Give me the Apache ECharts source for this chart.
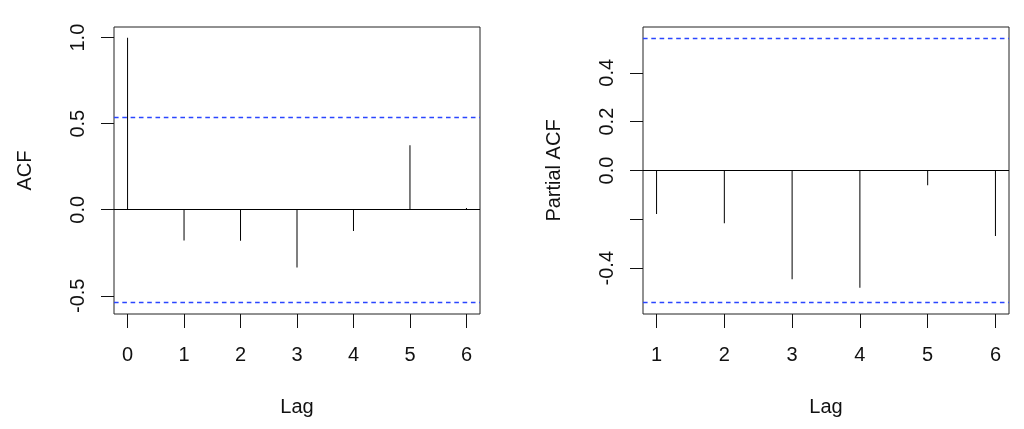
<!DOCTYPE html>
<html>
<head>
<meta charset="utf-8">
<script src="https://cdn.jsdelivr.net/npm/echarts@6/dist/echarts.min.js"></script>
<style>html,body{margin:0;padding:0;background:#fff}#c{width:1024px;height:429px}</style>
</head>
<body>
<div id="c"></div>
<script>
// ---- data ----
const acfLags = [0, 1, 2, 3, 4, 5, 6];
const acfValues = [1.0, -0.178, -0.180, -0.335, -0.124, 0.374, 0.010];
const pacfLags = [1, 2, 3, 4, 5, 6];
const pacfValues = [-0.178, -0.216, -0.445, -0.480, -0.060, -0.268];
const ciBound = 0.544;
const acfYTicks = [-0.5, 0.0, 0.5, 1.0];
const pacfYTicks = [-0.4, -0.2, 0.0, 0.2, 0.4];
const pacfYLabels = [-0.4, 0.0, 0.2, 0.4];
const acfXTicks = [0, 1, 2, 3, 4, 5, 6];
const pacfXTicks = [1, 2, 3, 4, 5, 6];

const FONT = '"Liberation Sans", Arial, Helvetica, sans-serif';
const INK = '#111';
const BLUE = '#2a46ff';
const FS = 20;

function ext(lo, hi) { const d = (hi - lo) * 0.04; return [lo - d, hi + d]; }
const acfY = ext(Math.min(-ciBound, ...acfValues), Math.max(ciBound, ...acfValues));
const acfX = ext(Math.min(...acfLags), Math.max(...acfLags));
const pacfY = ext(Math.min(-ciBound, ...pacfValues), Math.max(ciBound, ...pacfValues));
const pacfX = ext(Math.min(...pacfLags), Math.max(...pacfLags));

function xAxis(idx, range, ticks) {
  return {
    type: 'value', gridIndex: idx, min: range[0], max: range[1],
    axisLine: { show: false, onZero: false },
    splitLine: { show: false },
    axisTick: { show: true, customValues: ticks, length: 14, lineStyle: { color: INK, width: 1 } },
    axisLabel: { customValues: ticks, margin: 31, fontSize: FS, color: INK, fontFamily: FONT, formatter: v => String(v) },
    name: 'Lag', nameLocation: 'middle', nameGap: 83,
    nameTextStyle: { fontSize: FS, color: INK, fontFamily: FONT }
  };
}
function yAxis(idx, range, ticks, labels, name) {
  return {
    type: 'value', gridIndex: idx, min: range[0], max: range[1],
    axisLine: { show: false, onZero: false },
    splitLine: { show: false },
    axisTick: { show: true, customValues: ticks, length: 13, lineStyle: { color: INK, width: 1 } },
    axisLabel: { customValues: labels, rotate: 90, margin: 26, fontSize: FS, color: INK, fontFamily: FONT, formatter: v => v.toFixed(1) },
    name: name, nameLocation: 'middle', nameRotate: 90, nameGap: 79,
    nameTextStyle: { fontSize: FS, color: INK, fontFamily: FONT }
  };
}
function spikes(idx, lags, vals) {
  return {
    type: 'bar', xAxisIndex: idx, yAxisIndex: idx, barWidth: 1,
    data: lags.map((l, i) => [l, vals[i]]),
    itemStyle: { color: '#000' }, silent: true, animation: false,
    markLine: {
      silent: true, symbol: 'none', animation: false, label: { show: false },
      lineStyle: { color: '#000', type: 'solid', width: 1 },
      data: [{ yAxis: 0 }]
    }
  };
}
function ciLines(idx) {
  return {
    type: 'line', xAxisIndex: idx, yAxisIndex: idx, data: [],
    color: BLUE, silent: true, animation: false,
    lineStyle: { color: BLUE },
    markLine: {
      silent: true, symbol: 'none', animation: false, label: { show: false },
      lineStyle: { color: BLUE, type: [4.6, 3.7], width: 1.3, opacity: 1 },
      data: [{ yAxis: ciBound }, { yAxis: -ciBound }]
    }
  };
}

const chart = echarts.init(document.getElementById('c'), null, { renderer: 'canvas' });
chart.setOption({
  animation: false,
  backgroundColor: '#fff',
  grid: [
    { left: 114, top: 27, width: 366, height: 287, show: true, borderColor: '#222', borderWidth: 1, backgroundColor: 'transparent' },
    { left: 643, top: 27, width: 366, height: 287, show: true, borderColor: '#222', borderWidth: 1, backgroundColor: 'transparent' }
  ],
  xAxis: [xAxis(0, acfX, acfXTicks), xAxis(1, pacfX, pacfXTicks)],
  yAxis: [yAxis(0, acfY, acfYTicks, acfYTicks, 'ACF'), yAxis(1, pacfY, pacfYTicks, pacfYLabels, 'Partial ACF')],
  series: [spikes(0, acfLags, acfValues), ciLines(0), spikes(1, pacfLags, pacfValues), ciLines(1)]
});
</script>
</body>
</html>
